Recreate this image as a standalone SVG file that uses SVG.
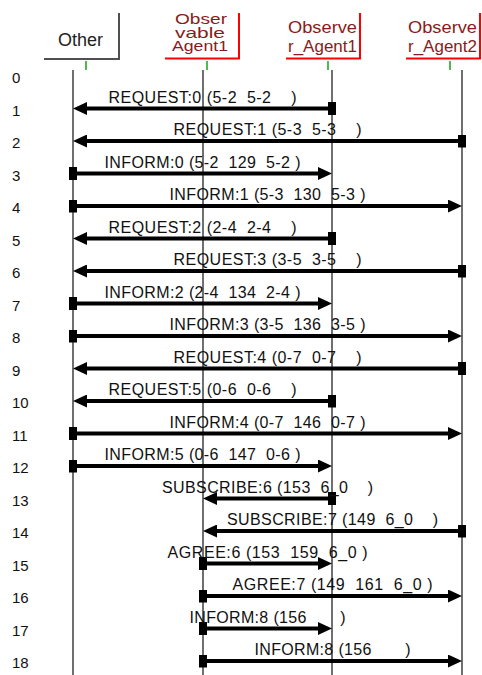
<svg xmlns="http://www.w3.org/2000/svg" width="482" height="675" viewBox="0 0 482 675">
<style>
text{font-family:"Liberation Sans",Arial,sans-serif;white-space:pre}
.hdr{font-size:18px;fill:#222}
.ahdr{font-size:16.5px;fill:#8b1a1a}
.ahdr3{font-size:15px;fill:#8b1a1a}
.gbox{stroke:#505050;stroke-width:2;fill:none}
.rbox{stroke:#ff0000;stroke-width:2;fill:none}
.tick{stroke:#22aa22;stroke-width:1.6}
.life{stroke:#222;stroke-width:1.3}
.msg{stroke:#000;stroke-width:4;fill:none;marker-start:url(#sq);marker-end:url(#ah)}
.lbl{font-size:16px;fill:#111}
.num{font-size:15px;fill:#111}
</style>
<defs>
<marker id="ah" viewBox="0 0 14 13" markerWidth="14" markerHeight="13" refX="4" refY="6.5" orient="auto" markerUnits="userSpaceOnUse"><path d="M0,0 L14,6.5 L0,13 Z" fill="#000"/></marker>
<marker id="sq" viewBox="0 0 8 13" markerWidth="8" markerHeight="13" refX="4" refY="6.5" orient="auto" markerUnits="userSpaceOnUse"><rect x="0" y="0" width="8" height="13" fill="#000"/></marker>
</defs>
<rect width="482" height="675" fill="#fff"/>

<g id="Other">
<path class="gbox" d="M119,13 V59 H44"/>
<text class="hdr" x="58" y="46" textLength="45" lengthAdjust="spacingAndGlyphs">Other</text>
<line class="tick" x1="86" y1="61" x2="86" y2="70"/>
<line class="life" x1="73" y1="70" x2="73" y2="675"/>
</g>

<g id="ObservableAgent1">
<path class="rbox" d="M239,13 V58.5 H165"/>
<text class="ahdr3" x="175" y="24" textLength="52" lengthAdjust="spacingAndGlyphs">Obser</text>
<text class="ahdr3" x="175" y="37.5" textLength="50" lengthAdjust="spacingAndGlyphs">vable</text>
<text class="ahdr3" x="172" y="51" textLength="56" lengthAdjust="spacingAndGlyphs">Agent1</text>
<line class="tick" x1="207" y1="61" x2="207" y2="70"/>
<line class="life" x1="203" y1="70" x2="203" y2="675"/>
</g>

<g id="Observer_Agent1">
<path class="rbox" d="M360,13 V58.5 H286"/>
<text class="ahdr" x="288" y="33" textLength="69" lengthAdjust="spacingAndGlyphs">Observe</text>
<text class="ahdr" x="288" y="52" textLength="69" lengthAdjust="spacingAndGlyphs">r_Agent1</text>
<line class="tick" x1="328" y1="61" x2="328" y2="70"/>
<line class="life" x1="332" y1="70" x2="332" y2="675"/>
</g>

<g id="Observer_Agent2">
<path class="rbox" d="M480,13 V58.5 H406"/>
<text class="ahdr" x="408" y="33" textLength="69" lengthAdjust="spacingAndGlyphs">Observe</text>
<text class="ahdr" x="408" y="52" textLength="69" lengthAdjust="spacingAndGlyphs">r_Agent2</text>
<line class="tick" x1="450" y1="61" x2="450" y2="70"/>
<line class="life" x1="462" y1="70" x2="462" y2="675"/>
</g>

<g id="rows">
<text class="num" x="12" y="83">0</text>
<text class="num" x="12" y="115.5">1</text>
<text class="num" x="12" y="148">2</text>
<text class="num" x="12" y="180.5">3</text>
<text class="num" x="12" y="213">4</text>
<text class="num" x="12" y="245.5">5</text>
<text class="num" x="12" y="278">6</text>
<text class="num" x="12" y="310.5">7</text>
<text class="num" x="12" y="343">8</text>
<text class="num" x="12" y="375.5">9</text>
<text class="num" x="12" y="408">10</text>
<text class="num" x="12" y="440.5">11</text>
<text class="num" x="12" y="473">12</text>
<text class="num" x="12" y="505.5">13</text>
<text class="num" x="12" y="538">14</text>
<text class="num" x="12" y="570.5">15</text>
<text class="num" x="12" y="603">16</text>
<text class="num" x="12" y="635.5">17</text>
<text class="num" x="12" y="668">18</text>
</g>

<g id="connectors">
<line class="msg" x1="332" y1="108.5" x2="83" y2="108.5"/>
<text class="lbl" x="108.5" y="102.5" textLength="188" xml:space="preserve">REQUEST:0 (5-2  5-2    )</text>
<line class="msg" x1="462" y1="141" x2="83" y2="141"/>
<text class="lbl" x="173.5" y="135" textLength="188" xml:space="preserve">REQUEST:1 (5-3  5-3    )</text>
<line class="msg" x1="73" y1="173.5" x2="322" y2="173.5"/>
<text class="lbl" x="104.5" y="167.5" textLength="196" xml:space="preserve">INFORM:0 (5-2  129  5-2 )</text>
<line class="msg" x1="73" y1="206" x2="452" y2="206"/>
<text class="lbl" x="169.5" y="200" textLength="196" xml:space="preserve">INFORM:1 (5-3  130  5-3 )</text>
<line class="msg" x1="332" y1="238.5" x2="83" y2="238.5"/>
<text class="lbl" x="108.5" y="232.5" textLength="188" xml:space="preserve">REQUEST:2 (2-4  2-4    )</text>
<line class="msg" x1="462" y1="271" x2="83" y2="271"/>
<text class="lbl" x="173.5" y="265" textLength="188" xml:space="preserve">REQUEST:3 (3-5  3-5    )</text>
<line class="msg" x1="73" y1="303.5" x2="322" y2="303.5"/>
<text class="lbl" x="104.5" y="297.5" textLength="196" xml:space="preserve">INFORM:2 (2-4  134  2-4 )</text>
<line class="msg" x1="73" y1="336" x2="452" y2="336"/>
<text class="lbl" x="169.5" y="330" textLength="196" xml:space="preserve">INFORM:3 (3-5  136  3-5 )</text>
<line class="msg" x1="462" y1="368.5" x2="83" y2="368.5"/>
<text class="lbl" x="173.5" y="362.5" textLength="188" xml:space="preserve">REQUEST:4 (0-7  0-7    )</text>
<line class="msg" x1="332" y1="401" x2="83" y2="401"/>
<text class="lbl" x="108.5" y="395" textLength="188" xml:space="preserve">REQUEST:5 (0-6  0-6    )</text>
<line class="msg" x1="73" y1="433.5" x2="452" y2="433.5"/>
<text class="lbl" x="169.5" y="427.5" textLength="196" xml:space="preserve">INFORM:4 (0-7  146  0-7 )</text>
<line class="msg" x1="73" y1="466" x2="322" y2="466"/>
<text class="lbl" x="104.5" y="460" textLength="196" xml:space="preserve">INFORM:5 (0-6  147  0-6 )</text>
<line class="msg" x1="332" y1="498.5" x2="213" y2="498.5"/>
<text class="lbl" x="162" y="492.5" textLength="211" xml:space="preserve">SUBSCRIBE:6 (153  6_0    )</text>
<line class="msg" x1="462" y1="531" x2="213" y2="531"/>
<text class="lbl" x="227" y="525" textLength="211" xml:space="preserve">SUBSCRIBE:7 (149  6_0    )</text>
<line class="msg" x1="203" y1="563.5" x2="322" y2="563.5"/>
<text class="lbl" x="167.5" y="557.5" textLength="200" xml:space="preserve">AGREE:6 (153  159  6_0 )</text>
<line class="msg" x1="203" y1="596" x2="452" y2="596"/>
<text class="lbl" x="232.5" y="590" textLength="200" xml:space="preserve">AGREE:7 (149  161  6_0 )</text>
<line class="msg" x1="203" y1="628.5" x2="322" y2="628.5"/>
<text class="lbl" x="189.5" y="622.5" textLength="156" xml:space="preserve">INFORM:8 (156       )</text>
<line class="msg" x1="203" y1="661" x2="452" y2="661"/>
<text class="lbl" x="254.5" y="655" textLength="156" xml:space="preserve">INFORM:8 (156       )</text>
</g>
</svg>
